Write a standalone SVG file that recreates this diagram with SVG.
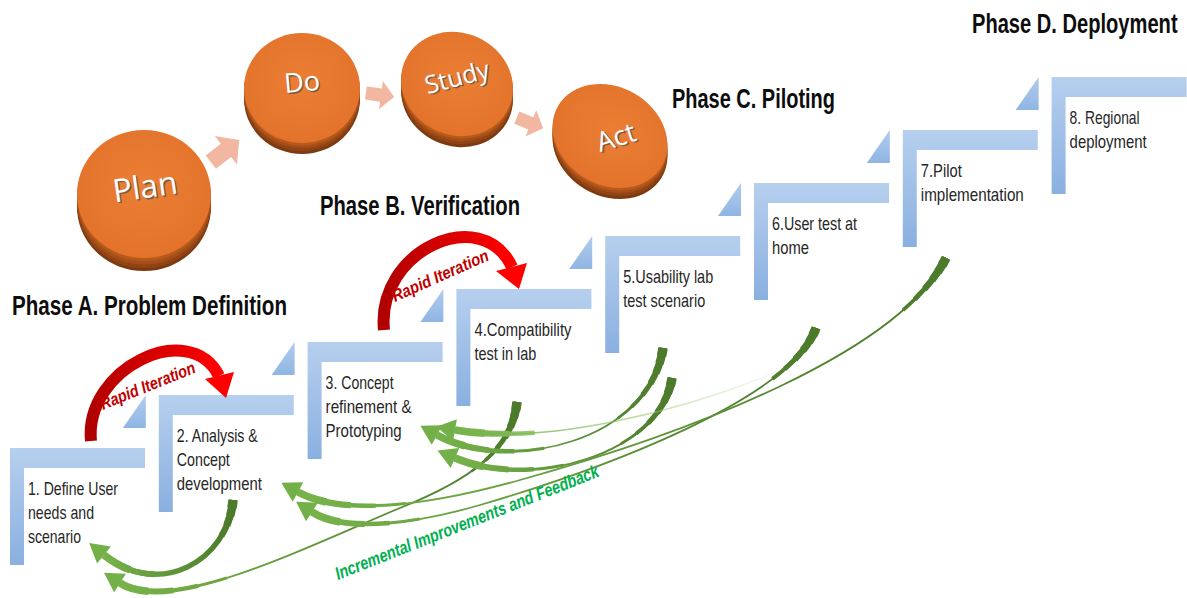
<svg xmlns="http://www.w3.org/2000/svg" xmlns:xlink="http://www.w3.org/1999/xlink" width="1187" height="598" viewBox="0 0 1187 598">
  <style>
    .title{font-family:"Liberation Sans",Arial,sans-serif;font-weight:bold;font-size:27px;fill:#0d0d0d}
    .lbl{font-family:"Liberation Sans",Arial,sans-serif;font-size:19px;fill:#262626}
    .dtxt{font-family:"Open Sans","Liberation Sans",sans-serif;text-anchor:middle;fill:#ffffff}
    .dsh{font-family:"Open Sans","Liberation Sans",sans-serif;text-anchor:middle;fill:#4d4d4d;opacity:.7}
    .top{fill:url(#gTop)}
    .s1{fill:#7c3a11}.s2{fill:#904415}.s3{fill:#a44e18}.s4{fill:#b8591c}
    .pink{fill:#f2b7a1}
    .red{fill:none;stroke:url(#gRed);stroke-width:12}
    .redhead{fill:#ff0000}
    .rapid{font-family:"Liberation Sans",Arial,sans-serif;font-weight:bold;font-style:italic;font-size:17px;fill:#c00000}
    .fb{font-family:"Liberation Sans",Arial,sans-serif;font-weight:bold;font-style:italic;font-size:18px;fill:#00b050}
    .arc{fill:none;stroke:url(#gArc)}
    .arcF{fill:none;stroke:url(#gFade)}
    .base{stroke-width:1.8}
    .t0{stroke-width:9.5;stroke-dasharray:8 3000}
    .t1{stroke-width:8.5;stroke-dasharray:16 3000}
    .t2{stroke-width:7.5;stroke-dasharray:26 3000}
    .t3{stroke-width:6.3;stroke-dasharray:38 3000}
    .t4{stroke-width:5;stroke-dasharray:52 3000}
    .t5{stroke-width:3.8;stroke-dasharray:68 3000}
    .t6{stroke-width:2.7;stroke-dasharray:86 3000}
    .h1{stroke-width:7.5;stroke-dasharray:30 3000}
    .h2{stroke-width:6;stroke-dasharray:55 3000}
    .h3{stroke-width:4.5;stroke-dasharray:80 3000}
    .h4{stroke-width:3;stroke-dasharray:110 3000}
  </style>
  <defs>
    <linearGradient id="gStep" gradientUnits="userSpaceOnUse" x1="0" y1="0" x2="0" y2="117">
      <stop offset="0" stop-color="#b6cfee"/>
      <stop offset="1" stop-color="#8ab0e0"/>
    </linearGradient>
    <linearGradient id="gTri" x1="0" y1="0" x2="0" y2="1">
      <stop offset="0" stop-color="#b2cced"/>
      <stop offset="1" stop-color="#8fb5e3"/>
    </linearGradient>
    <radialGradient id="gTop" cx="0.5" cy="0.45" r="0.6">
      <stop offset="0" stop-color="#ec7e34"/>
      <stop offset="1" stop-color="#e2722a"/>
    </radialGradient>
    <linearGradient id="gRed" x1="0" y1="0" x2="1" y2="0">
      <stop offset="0" stop-color="#b00000"/>
      <stop offset="1" stop-color="#ff0000"/>
    </linearGradient>
    <linearGradient id="gArc" x1="1" y1="0" x2="0" y2="0">
      <stop offset="0" stop-color="#4c7a2b"/>
      <stop offset="0.45" stop-color="#5e9437"/>
      <stop offset="1" stop-color="#77b24b"/>
    </linearGradient>
    <linearGradient id="gFade" x1="0" y1="0" x2="1" y2="0">
      <stop offset="0" stop-color="#77b24b"/>
      <stop offset="0.5" stop-color="#8cc266" stop-opacity="0.6"/>
      <stop offset="1" stop-color="#a9d18e" stop-opacity="0"/>
    </linearGradient>
    <marker id="ah" markerUnits="userSpaceOnUse" viewBox="-2 -13 26 26" markerWidth="26" markerHeight="26" refX="0" refY="0" orient="auto">
      <path d="M0 -11 L19 0 L0 11 Z" fill="#74b049"/>
    </marker>

    <!-- step-up shape: top bar, left post and the ramp triangle -->
    <path id="stepL" d="M0 0 H135 V20 H14 V117 H0 Z" fill="url(#gStep)"/>
    <path id="stepTri" d="M-13 0 V33 H-36 Z" fill="url(#gTri)"/>

    <!-- PDCA block arrow -->
    <path id="pk" d="M-15 -7 L1 -7 L1 -15 L15 0 L1 15 L1 7 L-15 7 Z"/>

    <!-- feedback arcs, tail to head -->
    <path id="a1" d="M 233 500 C 228 560, 160 600, 104 555"/>
    <path id="a2" d="M 517 402 C 512 450, 470 480, 400 508 C 300 550, 170 615, 120 583"/>
    <path id="a3" d="M 663 348 C 650 440, 510 475, 437 435"/>
    <path id="a4" d="M 672 378 C 660 455, 530 490, 455 458"/>
    <path id="a5" d="M 816 328 C 790 400, 600 470, 480 505 C 400 528, 340 530, 312 512"/>
    <path id="a6" d="M 946 258 C 900 350, 700 430, 520 480 C 420 508, 340 515, 298 492"/>
    <path id="a7" d="M 800 362 C 680 415, 540 445, 455 430"/>
    <!-- same arcs, head to tail -->
    <path id="r1" d="M 104 555 C 160 600, 228 560, 233 500"/>
    <path id="r2" d="M 120 583 C 170 615, 300 550, 400 508 C 470 480, 512 450, 517 402"/>
    <path id="r3" d="M 437 435 C 510 475, 650 440, 663 348"/>
    <path id="r4" d="M 455 458 C 530 490, 660 455, 672 378"/>
    <path id="r5" d="M 312 512 C 340 530, 400 528, 480 505 C 600 470, 790 400, 816 328"/>
    <path id="r6" d="M 298 492 C 340 515, 420 508, 520 480 C 700 430, 900 350, 946 258"/>
    <path id="r7" d="M 455 430 C 540 445, 680 415, 800 362"/>
  </defs>

  <rect width="1187" height="598" fill="#ffffff"/>

  <!-- phase headings -->
  <g id="phases">
    <text class="title" x="12" y="315" textLength="275" lengthAdjust="spacingAndGlyphs">Phase A. Problem Definition</text>
    <text class="title" x="320" y="215" textLength="200" lengthAdjust="spacingAndGlyphs">Phase B. Verification</text>
    <text class="title" x="672" y="108" textLength="163" lengthAdjust="spacingAndGlyphs">Phase C. Piloting</text>
    <text class="title" transform="translate(972,33) scale(0.745,1)">Phase D. Deployment</text>
  </g>

  <!-- steps -->
  <g id="step1" transform="translate(10,448)">
    <use href="#stepL"/>
    <text class="lbl" x="18" y="47" textLength="90" lengthAdjust="spacingAndGlyphs">1. Define User</text>
    <text class="lbl" x="18" y="71" textLength="66" lengthAdjust="spacingAndGlyphs">needs and</text>
    <text class="lbl" x="18" y="95" textLength="53" lengthAdjust="spacingAndGlyphs">scenario</text>
  </g>
  <g id="step2" transform="translate(158.8,395)">
    <use href="#stepTri"/><use href="#stepL"/>
    <text class="lbl" x="18" y="47" textLength="81" lengthAdjust="spacingAndGlyphs">2. Analysis &amp;</text>
    <text class="lbl" x="18" y="71" textLength="53" lengthAdjust="spacingAndGlyphs">Concept</text>
    <text class="lbl" x="18" y="95" textLength="85" lengthAdjust="spacingAndGlyphs">development</text>
  </g>
  <g id="step3" transform="translate(307.6,342)">
    <use href="#stepTri"/><use href="#stepL"/>
    <text class="lbl" x="18" y="47" textLength="68" lengthAdjust="spacingAndGlyphs">3. Concept</text>
    <text class="lbl" x="18" y="71" textLength="86" lengthAdjust="spacingAndGlyphs">refinement &amp;</text>
    <text class="lbl" x="18" y="95" textLength="76" lengthAdjust="spacingAndGlyphs">Prototyping</text>
  </g>
  <g id="step4" transform="translate(456.4,289)">
    <use href="#stepTri"/><use href="#stepL"/>
    <text class="lbl" x="18" y="47" textLength="97" lengthAdjust="spacingAndGlyphs">4.Compatibility</text>
    <text class="lbl" x="18" y="71" textLength="62" lengthAdjust="spacingAndGlyphs">test in lab</text>
  </g>
  <g id="step5" transform="translate(605.2,236)">
    <use href="#stepTri"/><use href="#stepL"/>
    <text class="lbl" x="18" y="47" textLength="90" lengthAdjust="spacingAndGlyphs">5.Usability lab</text>
    <text class="lbl" x="18" y="71" textLength="82" lengthAdjust="spacingAndGlyphs">test scenario</text>
  </g>
  <g id="step6" transform="translate(754,183)">
    <use href="#stepTri"/><use href="#stepL"/>
    <text class="lbl" x="18" y="47" textLength="85" lengthAdjust="spacingAndGlyphs">6.User test at</text>
    <text class="lbl" x="18" y="71" textLength="37" lengthAdjust="spacingAndGlyphs">home</text>
  </g>
  <g id="step7" transform="translate(902.8,130)">
    <use href="#stepTri"/><use href="#stepL"/>
    <text class="lbl" x="18" y="47" textLength="41" lengthAdjust="spacingAndGlyphs">7.Pilot</text>
    <text class="lbl" x="18" y="71" textLength="103" lengthAdjust="spacingAndGlyphs">implementation</text>
  </g>
  <g id="step8" transform="translate(1051.6,77)">
    <use href="#stepTri"/><use href="#stepL"/>
    <text class="lbl" x="18" y="47" textLength="70" lengthAdjust="spacingAndGlyphs">8. Regional</text>
    <text class="lbl" x="18" y="71" textLength="77" lengthAdjust="spacingAndGlyphs">deployment</text>
  </g>

  <!-- PDCA discs -->
  <g id="plan" transform="translate(144,194)">
    <ellipse class="s1" cy="13" rx="67" ry="64"/>
    <ellipse class="s2" cy="10" rx="67" ry="64"/>
    <ellipse class="s3" cy="6.5" rx="67" ry="64"/>
    <ellipse class="s4" cy="3" rx="67" ry="64"/>
    <ellipse class="top" rx="67" ry="64"/>
    <g transform="translate(1,-7) rotate(-8)">
      <text class="dsh" x="1.3" y="12.5" font-size="32">Plan</text>
      <text class="dtxt" x="0" y="11" font-size="32">Plan</text>
    </g>
  </g>
  <g id="do" transform="translate(302,88)">
    <ellipse class="s1" cy="11" rx="58" ry="55"/>
    <ellipse class="s2" cy="8" rx="58" ry="55"/>
    <ellipse class="s3" cy="5" rx="58" ry="55"/>
    <ellipse class="s4" cy="2.5" rx="58" ry="55"/>
    <ellipse class="top" rx="58" ry="55"/>
    <g transform="translate(0,-6) rotate(-5)">
      <text class="dsh" x="1.2" y="11" font-size="27">Do</text>
      <text class="dtxt" x="0" y="9.5" font-size="27">Do</text>
    </g>
  </g>
  <g id="study" transform="translate(457,84)">
    <ellipse class="s1" rx="57" ry="51" transform="translate(0,11) rotate(25)"/>
    <ellipse class="s2" rx="57" ry="51" transform="translate(0,8) rotate(25)"/>
    <ellipse class="s3" rx="57" ry="51" transform="translate(0,5) rotate(25)"/>
    <ellipse class="s4" rx="57" ry="51" transform="translate(0,2.5) rotate(25)"/>
    <ellipse class="top" rx="57" ry="51" transform="rotate(25)"/>
    <g transform="translate(0,-7) rotate(-15)">
      <text class="dsh" x="1.2" y="10.5" font-size="25">Study</text>
      <text class="dtxt" x="0" y="9" font-size="25">Study</text>
    </g>
  </g>
  <g id="act" transform="translate(610,136)">
    <ellipse class="s1" rx="60" ry="49" transform="translate(0,11) rotate(30)"/>
    <ellipse class="s2" rx="60" ry="49" transform="translate(0,8) rotate(30)"/>
    <ellipse class="s3" rx="60" ry="49" transform="translate(0,5) rotate(30)"/>
    <ellipse class="s4" rx="60" ry="49" transform="translate(0,2.5) rotate(30)"/>
    <ellipse class="top" rx="60" ry="49" transform="rotate(30)"/>
    <g transform="translate(6,1) rotate(-18)">
      <text class="dsh" x="1.2" y="11" font-size="27">Act</text>
      <text class="dtxt" x="0" y="9.5" font-size="27">Act</text>
    </g>
  </g>

  <!-- connectors -->
  <g id="connectors">
    <!-- PDCA cycle arrows -->
    <use href="#pk" class="pink" transform="translate(225,151) rotate(-38) scale(1.2)"/>
    <use href="#pk" class="pink" transform="translate(380,95) rotate(8) scale(0.95)"/>
    <use href="#pk" class="pink" transform="translate(530,123) rotate(22) scale(0.95)"/>

    <!-- rapid iteration loops -->
    <path class="red" d="M 91 441 C 84 368, 190 318, 219 376"/>
    <polygon class="redhead" points="205,379 234,372 226,398"/>
    <path class="red" d="M 384 330 C 376 250, 482 203, 512 267"/>
    <polygon class="redhead" points="496,271 527,263 519,289"/>

    <!-- feedback loops -->
    <g id="fb1">
      <use href="#a1" class="arc" style="stroke-width:5.5" marker-end="url(#ah)"/>
      <use href="#a1" class="arc t0"/><use href="#a1" class="arc t1"/><use href="#a1" class="arc t2"/><use href="#a1" class="arc t3"/>
      <use href="#r1" class="arc h1"/><use href="#r1" class="arc h2"/>
    </g>
    <g id="fb2">
      <use href="#a2" class="arc base" marker-end="url(#ah)"/>
      <use href="#a2" class="arc t0"/><use href="#a2" class="arc t1"/><use href="#a2" class="arc t2"/><use href="#a2" class="arc t3"/><use href="#a2" class="arc t4"/><use href="#a2" class="arc t5"/><use href="#a2" class="arc t6"/>
      <use href="#r2" class="arc h1"/><use href="#r2" class="arc h2"/><use href="#r2" class="arc h3"/><use href="#r2" class="arc h4"/>
    </g>
    <g id="fb3">
      <use href="#a3" class="arc base" marker-end="url(#ah)"/>
      <use href="#a3" class="arc t0"/><use href="#a3" class="arc t1"/><use href="#a3" class="arc t2"/><use href="#a3" class="arc t3"/><use href="#a3" class="arc t4"/><use href="#a3" class="arc t5"/><use href="#a3" class="arc t6"/>
      <use href="#r3" class="arc h1"/><use href="#r3" class="arc h2"/><use href="#r3" class="arc h3"/><use href="#r3" class="arc h4"/>
    </g>
    <g id="fb4">
      <use href="#a4" class="arc base" marker-end="url(#ah)"/>
      <use href="#a4" class="arc t0"/><use href="#a4" class="arc t1"/><use href="#a4" class="arc t2"/><use href="#a4" class="arc t3"/><use href="#a4" class="arc t4"/><use href="#a4" class="arc t5"/><use href="#a4" class="arc t6"/>
      <use href="#r4" class="arc h1"/><use href="#r4" class="arc h2"/><use href="#r4" class="arc h3"/><use href="#r4" class="arc h4"/>
    </g>
    <g id="fb5">
      <use href="#a5" class="arc base" marker-end="url(#ah)"/>
      <use href="#a5" class="arc t0"/><use href="#a5" class="arc t1"/><use href="#a5" class="arc t2"/><use href="#a5" class="arc t3"/><use href="#a5" class="arc t4"/><use href="#a5" class="arc t5"/>
      <use href="#r5" class="arc h1"/><use href="#r5" class="arc h2"/><use href="#r5" class="arc h3"/><use href="#r5" class="arc h4"/>
    </g>
    <g id="fb6">
      <use href="#a6" class="arc base" marker-end="url(#ah)"/>
      <use href="#a6" class="arc t0"/><use href="#a6" class="arc t1"/><use href="#a6" class="arc t2"/><use href="#a6" class="arc t3"/><use href="#a6" class="arc t4"/><use href="#a6" class="arc t5"/>
      <use href="#r6" class="arc h1"/><use href="#r6" class="arc h2"/><use href="#r6" class="arc h3"/><use href="#r6" class="arc h4"/>
    </g>
    <g id="fb7">
      <use href="#a7" class="arcF" style="stroke-width:1.6" marker-end="url(#ah)"/>
      <use href="#r7" class="arcF h1"/><use href="#r7" class="arcF h2"/><use href="#r7" class="arcF h3"/>
    </g>

    <text class="rapid" transform="translate(103,410) rotate(-22)" textLength="101" lengthAdjust="spacingAndGlyphs">Rapid Iteration</text>
    <text class="rapid" transform="translate(395,302) rotate(-24)" textLength="104" lengthAdjust="spacingAndGlyphs">Rapid Iteration</text>
    <text class="fb" transform="translate(338,580) rotate(-21.6)" textLength="282" lengthAdjust="spacingAndGlyphs">Incremental Improvements and Feedback</text>
  </g>
</svg>
